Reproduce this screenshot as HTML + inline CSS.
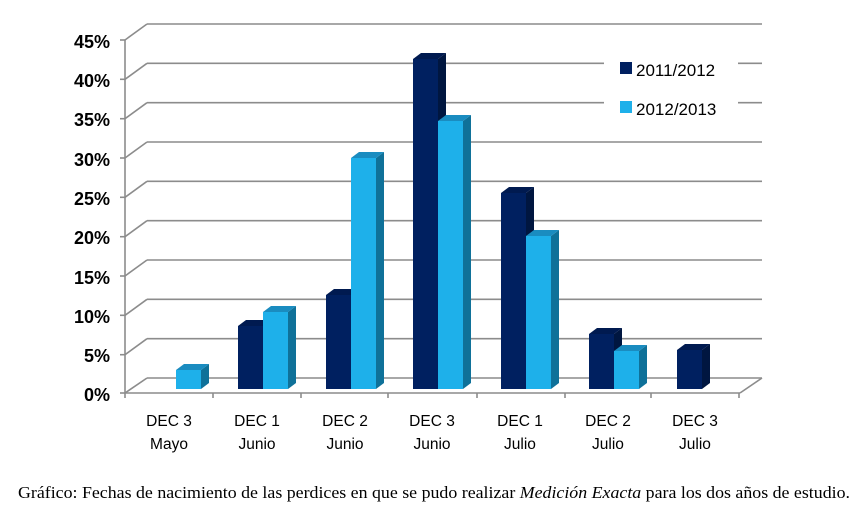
<!DOCTYPE html>
<html><head><style>body{margin:0;background:#fff}svg{display:block}</style></head><body>
<svg width="858" height="510" viewBox="0 0 858 510" xmlns="http://www.w3.org/2000/svg">
<g stroke="#8c8c8c" stroke-width="1.6" fill="none">
<line x1="147" y1="24" x2="762" y2="24"/><line x1="147" y1="63.3" x2="762" y2="63.3"/><line x1="147" y1="102.7" x2="762" y2="102.7"/><line x1="147" y1="142" x2="762" y2="142"/><line x1="147" y1="181.3" x2="762" y2="181.3"/><line x1="147" y1="220.7" x2="762" y2="220.7"/><line x1="147" y1="260" x2="762" y2="260"/><line x1="147" y1="299.3" x2="762" y2="299.3"/><line x1="147" y1="338.7" x2="762" y2="338.7"/><line x1="147" y1="378" x2="762" y2="378"/>
<line x1="125" y1="40" x2="147" y2="24"/><line x1="125" y1="79.3" x2="147" y2="63.3"/><line x1="125" y1="118.7" x2="147" y2="102.7"/><line x1="125" y1="158" x2="147" y2="142"/><line x1="125" y1="197.3" x2="147" y2="181.3"/><line x1="125" y1="236.7" x2="147" y2="220.7"/><line x1="125" y1="276" x2="147" y2="260"/><line x1="125" y1="315.3" x2="147" y2="299.3"/><line x1="125" y1="354.7" x2="147" y2="338.7"/><line x1="125" y1="393" x2="147" y2="378"/>
<line x1="740" y1="393" x2="762" y2="378"/>
<line x1="125" y1="40" x2="125" y2="393"/><line x1="125" y1="393" x2="740" y2="393"/>
<line x1="120" y1="40" x2="125" y2="40"/><line x1="120" y1="79.3" x2="125" y2="79.3"/><line x1="120" y1="118.7" x2="125" y2="118.7"/><line x1="120" y1="158" x2="125" y2="158"/><line x1="120" y1="197.3" x2="125" y2="197.3"/><line x1="120" y1="236.7" x2="125" y2="236.7"/><line x1="120" y1="276" x2="125" y2="276"/><line x1="120" y1="315.3" x2="125" y2="315.3"/><line x1="120" y1="354.7" x2="125" y2="354.7"/><line x1="120" y1="393" x2="125" y2="393"/>
<line x1="125" y1="393" x2="125" y2="398"/><line x1="213" y1="393" x2="213" y2="398"/><line x1="301" y1="393" x2="301" y2="398"/><line x1="388" y1="393" x2="388" y2="398"/><line x1="477" y1="393" x2="477" y2="398"/><line x1="565" y1="393" x2="565" y2="398"/><line x1="651" y1="393" x2="651" y2="398"/><line x1="739" y1="393" x2="739" y2="398"/>
</g>
<rect x="604" y="50" width="134" height="60" fill="#fff"/>
<g>
<polygon points="201,370 209,364 209,383 201,389" fill="#0f7199"/><polygon points="176,370 184,364 209,364 201,370" fill="#1a8cc0"/><rect x="176" y="370" width="25" height="19" fill="#1eb0ea"/>
<polygon points="263,326 271,320 271,383 263,389" fill="#001640"/><polygon points="238,326 246,320 271,320 263,326" fill="#001a50"/><rect x="238" y="326" width="25" height="63" fill="#002060"/>
<polygon points="288,312 296,306 296,383 288,389" fill="#0f7199"/><polygon points="263,312 271,306 296,306 288,312" fill="#1a8cc0"/><rect x="263" y="312" width="25" height="77" fill="#1eb0ea"/>
<polygon points="351,295 359,289 359,383 351,389" fill="#001640"/><polygon points="326,295 334,289 359,289 351,295" fill="#001a50"/><rect x="326" y="295" width="25" height="94" fill="#002060"/>
<polygon points="376,158 384,152 384,383 376,389" fill="#0f7199"/><polygon points="351,158 359,152 384,152 376,158" fill="#1a8cc0"/><rect x="351" y="158" width="25" height="231" fill="#1eb0ea"/>
<polygon points="438,59 446,53 446,383 438,389" fill="#001640"/><polygon points="413,59 421,53 446,53 438,59" fill="#001a50"/><rect x="413" y="59" width="25" height="330" fill="#002060"/>
<polygon points="463,121 471,115 471,383 463,389" fill="#0f7199"/><polygon points="438,121 446,115 471,115 463,121" fill="#1a8cc0"/><rect x="438" y="121" width="25" height="268" fill="#1eb0ea"/>
<polygon points="526,193 534,187 534,383 526,389" fill="#001640"/><polygon points="501,193 509,187 534,187 526,193" fill="#001a50"/><rect x="501" y="193" width="25" height="196" fill="#002060"/>
<polygon points="551,236 559,230 559,383 551,389" fill="#0f7199"/><polygon points="526,236 534,230 559,230 551,236" fill="#1a8cc0"/><rect x="526" y="236" width="25" height="153" fill="#1eb0ea"/>
<polygon points="614,334 622,328 622,383 614,389" fill="#001640"/><polygon points="589,334 597,328 622,328 614,334" fill="#001a50"/><rect x="589" y="334" width="25" height="55" fill="#002060"/>
<polygon points="639,351 647,345 647,383 639,389" fill="#0f7199"/><polygon points="614,351 622,345 647,345 639,351" fill="#1a8cc0"/><rect x="614" y="351" width="25" height="38" fill="#1eb0ea"/>
<polygon points="702,350 710,344 710,383 702,389" fill="#001640"/><polygon points="677,350 685,344 710,344 702,350" fill="#001a50"/><rect x="677" y="350" width="25" height="39" fill="#002060"/>
</g>
<g font-family="Liberation Sans, sans-serif" font-size="18" font-weight="bold" text-anchor="end" fill="#000">
<text x="110" y="48">45%</text><text x="110" y="87">40%</text><text x="110" y="126">35%</text><text x="110" y="166">30%</text><text x="110" y="205">25%</text><text x="110" y="244">20%</text><text x="110" y="284">15%</text><text x="110" y="323">10%</text><text x="110" y="362">5%</text><text x="110" y="401">0%</text>
</g>
<g font-family="Liberation Sans, sans-serif" font-size="15.5" text-anchor="middle" fill="#000">
<text x="169" y="426">DEC 3</text><text x="169" y="449">Mayo</text>
<text x="257" y="426">DEC 1</text><text x="257" y="449">Junio</text>
<text x="345" y="426">DEC 2</text><text x="345" y="449">Junio</text>
<text x="432" y="426">DEC 3</text><text x="432" y="449">Junio</text>
<text x="520" y="426">DEC 1</text><text x="520" y="449">Julio</text>
<text x="608" y="426">DEC 2</text><text x="608" y="449">Julio</text>
<text x="695" y="426">DEC 3</text><text x="695" y="449">Julio</text>
</g>
<rect x="620" y="62" width="12" height="12" fill="#002060"/>
<rect x="620" y="101" width="12" height="12" fill="#1eb0ea"/>
<g font-family="Liberation Sans, sans-serif" font-size="17" fill="#000">
<text x="636" y="76">2011/2012</text><text x="636" y="115">2012/2013</text>
</g>
<text x="18" y="498" textLength="832" lengthAdjust="spacingAndGlyphs" font-family="Liberation Serif, serif" font-size="16.5" fill="#000">Gráfico: Fechas de nacimiento de las perdices en que se pudo realizar <tspan font-style="italic">Medición Exacta</tspan> para los dos años de estudio.</text>
</svg>
</body></html>
